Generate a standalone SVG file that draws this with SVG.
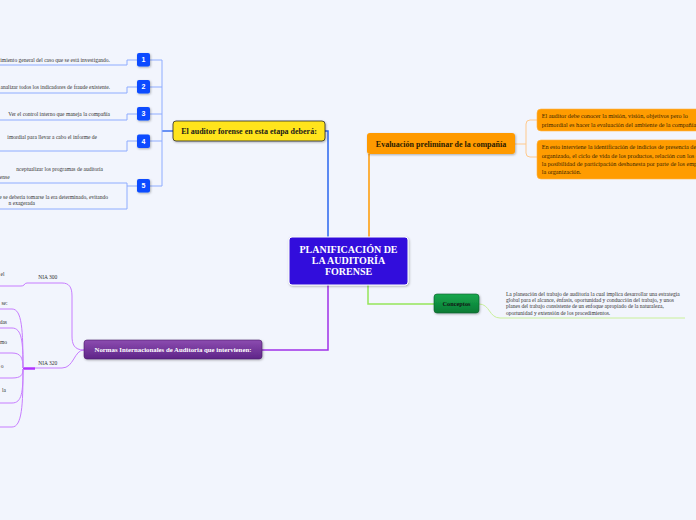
<svg xmlns="http://www.w3.org/2000/svg" width="696" height="520" viewBox="0 0 696 520">
<defs>
<filter id="sh" x="-10%" y="-20%" width="130%" height="160%"><feDropShadow dx="0.8" dy="1" stdDeviation="0.8" flood-color="#000" flood-opacity="0.3"/></filter>
<linearGradient id="gP" x1="0" y1="0" x2="0" y2="1"><stop offset="0" stop-color="#8c4cb0"/><stop offset="1" stop-color="#5e2488"/></linearGradient>
<linearGradient id="gG" x1="0" y1="0" x2="0" y2="1"><stop offset="0" stop-color="#17a84e"/><stop offset="1" stop-color="#0b7a34"/></linearGradient>
<style>
.t{font-family:"Liberation Serif","Times New Roman",serif;}
.b{font-weight:bold;}
.sm{font-size:5.5px;fill:#333;}
.oc{font-size:6.2px;fill:#3a2600;}
.num{font-family:"Liberation Sans",Arial,sans-serif;font-weight:bold;font-size:7px;fill:#fff;text-anchor:middle;}
.box{fill:#0a4cff;filter:url(#sh);}
.lb{fill:none;stroke:#8eacff;stroke-width:1;}
.lo{fill:none;stroke:#ffc98c;stroke-width:1;}
.lp{fill:none;stroke:#c77dff;stroke-width:1;}
.lg{fill:none;stroke:#c9f09a;stroke-width:1;}
</style>
</defs>
<rect width="696" height="520" fill="#f2f5fd"/>

<g id="connectors">
<path d="M325,131 H328 V237" fill="none" stroke="#2a66ee" stroke-width="1.5"/>
<path d="M369,237 V154" fill="none" stroke="#ff9900" stroke-width="1.5"/>
<path d="M328,285 V350 H262" fill="none" stroke="#a030e8" stroke-width="1.5"/>
<path d="M368,285 V304 H434" fill="none" stroke="#95e55a" stroke-width="1.5"/>
<path d="M173,131 H162" fill="none" stroke="#3a70f0" stroke-width="1.5"/>
<path class="lb" d="M162,60 V186 M150,60 H162 M150,87 H162 M150,114 H162 M150,141 H162 M150,186 H162"/>
<path class="lb" d="M137,60 H127 V65 H0 M137,87 H127 V93 H0 M137,114 H127 V120 H0 M137,141 H127 V151 H0 M137,186 H127 M0,183 H127 V209 H0"/>
<path class="lo" d="M515,144 H526 M538,120 H530 Q526,120 526,124 V153 Q526,157 530,157 H538"/>
<path class="lg" d="M479,304 C490,304 489,318 500,318 H685"/>
<path class="lp" d="M84,350 C74,350 72,344 72,336 V296 C72,287 69,283 62,283 H27 Q25,283 24,285 Q23,286 21,286 H0"/>
<path class="lp" d="M84,350 C74,350 74,368 62,368 H35"/>
<path d="M23,368.5 H35" fill="none" stroke="#b233ff" stroke-width="2.5"/>
<path class="lp" d="M23,368 C23,330 22,309 12,309 H0 M23,368 C23,342 22,328 12,328 H0 M23,368 C23,358 21,353 12,353 H0 M23,369 C23,375 21,378 12,378 H0 M23,369 C23,392 22,403 12,403 H0 M23,369 C23,405 22,427 12,427 H0"/>
</g>

<g id="center">
<rect x="289" y="237" width="119" height="48" rx="3" fill="#3210dc" stroke="#ffffff" stroke-width="1" filter="url(#sh)"/>
<text class="t b" x="348.5" y="253" font-size="10" fill="#fff" text-anchor="middle">PLANIFICACIÓN DE</text>
<text class="t b" x="348.5" y="264" font-size="10" fill="#fff" text-anchor="middle">LA AUDITORÍA</text>
<text class="t b" x="348.5" y="275" font-size="10" fill="#fff" text-anchor="middle">FORENSE</text>
</g>

<g id="auditor">
<rect x="173" y="121" width="152" height="20" rx="3" fill="#ffe41c" stroke="#2a2a2a" stroke-width="0.8" filter="url(#sh)"/>
<text class="t b" x="249" y="133.7" font-size="8" fill="#1a1a1a" text-anchor="middle">El auditor forense en esta etapa deberá:</text>
</g>

<g id="n1"><rect class="box" x="137" y="53" width="13" height="13.5" rx="2"/><text class="num" x="143.5" y="62.3">1</text></g>
<g id="n2"><rect class="box" x="137" y="80" width="13" height="13.5" rx="2"/><text class="num" x="143.5" y="89.3">2</text></g>
<g id="n3"><rect class="box" x="137" y="107" width="13" height="13.5" rx="2"/><text class="num" x="143.5" y="116.3">3</text></g>
<g id="n4"><rect class="box" x="137" y="134.5" width="13" height="13.5" rx="2"/><text class="num" x="143.5" y="143.8">4</text></g>
<g id="n5"><rect class="box" x="137" y="179" width="13" height="13.5" rx="2"/><text class="num" x="143.5" y="188.3">5</text></g>

<g id="t1"><text class="t sm" x="110" y="62" text-anchor="end">imiento general del caso que se está investigando.</text></g>
<g id="t2"><text class="t sm" x="110" y="89" text-anchor="end">analizar todos los indicadores de fraude existente.</text></g>
<g id="t3"><text class="t sm" x="8.3" y="116">Ver el control interno que maneja la compañía</text></g>
<g id="t4"><text class="t sm" x="97" y="138.7" text-anchor="end">imordial para llevar a cabo el informe de</text></g>
<g id="t5a"><text class="t sm" x="103" y="170.5" text-anchor="end">nceptualizar los programas de auditoría</text><text class="t sm" x="9.6" y="178.5" text-anchor="end">ense</text></g>
<g id="t5b"><text class="t sm" x="108" y="198.5" text-anchor="end">e se debería tomarse la era determinado, evitando</text><text class="t sm" x="35" y="204.5" text-anchor="end">n exagerada</text></g>

<g id="evaluacion">
<rect x="367" y="133" width="148" height="21" rx="3" fill="#ff9a00" filter="url(#sh)"/>
<text class="t b" x="441" y="146.5" font-size="8" fill="#2a1a00" text-anchor="middle">Evaluación preliminar de la compañía</text>
</g>
<g id="evalA">
<rect x="537" y="109" width="200" height="22" rx="4" fill="#ff9c00" stroke="#ffb347" stroke-width="0.6"/>
<text class="t oc" x="541.7" y="118">El auditor debe conocer la misión, visión, objetivos pero lo</text>
<text class="t oc" x="541.7" y="126.5">primordial es hacer la evaluación del ambiente de la compañía</text>
</g>
<g id="evalB">
<rect x="537" y="140" width="200" height="39" rx="4" fill="#ff9c00" stroke="#ffb347" stroke-width="0.6"/>
<text class="t oc" x="541.7" y="149.2">En esto interviene la identificación de indicios de presencia de c</text>
<text class="t oc" x="541.7" y="157.7">organizado, el ciclo de vida de los productos, relación con los cl</text>
<text class="t oc" x="541.7" y="166.2">la posibilidad de participación deshonesta por parte de los empl</text>
<text class="t oc" x="541.7" y="174.2">la organización.</text>
</g>

<g id="conceptos">
<rect x="434" y="294" width="45" height="19" rx="3" fill="url(#gG)" stroke="#0a5a28" stroke-width="0.6" filter="url(#sh)"/>
<text class="t b" x="456.5" y="306" font-size="6.3" fill="#141414" text-anchor="middle">Conceptos</text>
</g>
<g id="conceptosText">
<text class="t sm" x="506" y="296">La planeación del trabajo de auditoría la cual implica desarrollar una estrategia</text>
<text class="t sm" x="506" y="302">global para el alcance, énfasis, oportunidad y conducción del trabajo, y unos</text>
<text class="t sm" x="506" y="308">planes del trabajo consistente de un enfoque apropiado de la naturaleza,</text>
<text class="t sm" x="506" y="314.5">oportunidad y extensión de los procedimientos.</text>
</g>

<g id="normas">
<rect x="84" y="340" width="178" height="19" rx="3" fill="url(#gP)" stroke="#4a1a6a" stroke-width="0.6" filter="url(#sh)"/>
<text class="t b" x="173" y="352.3" font-size="6.8" fill="#fff" text-anchor="middle">Normas Internacionales de Auditoria que intervienen:</text>
</g>
<g id="nia300"><text class="t sm" x="47.8" y="279" text-anchor="middle">NIA 300</text><text class="t sm" x="4.5" y="276" text-anchor="end">el</text></g>
<g id="nia320"><text class="t sm" x="47.8" y="365" text-anchor="middle">NIA 320</text></g>
<g id="nia320children">
<text class="t sm" x="7.5" y="305" text-anchor="end">se:</text>
<text class="t sm" x="7" y="324" text-anchor="end">das</text>
<text class="t sm" x="7" y="344" text-anchor="end">mo</text>
<text class="t sm" x="3.5" y="368" text-anchor="end">o</text>
<text class="t sm" x="6" y="392" text-anchor="end">la</text>
</g>
</svg>
